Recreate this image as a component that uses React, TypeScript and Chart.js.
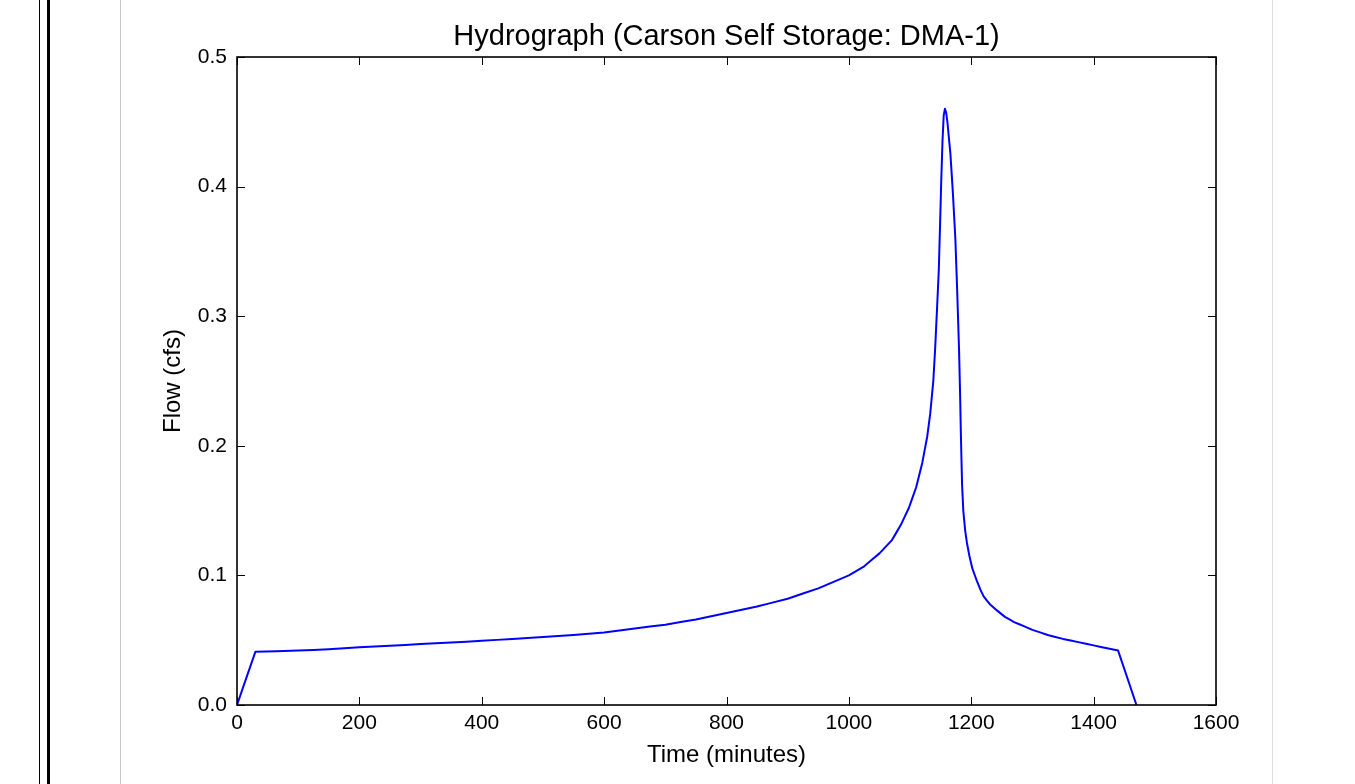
import React, { useEffect, useRef } from "react";
import { Chart, registerables } from "chart.js";

Chart.register(...registerables);

const chartTitle = "Hydrograph (Carson Self Storage: DMA-1)";
const xAxisLabel = "Time (minutes)";
const yAxisLabel = "Flow (cfs)";

// time in minutes
const timeMinutes = [
  0, 30, 100, 150, 200, 250, 300, 350, 400, 450, 500, 550, 600, 650, 700, 750,
  800, 850, 900, 950, 1000, 1025, 1050, 1070, 1085, 1098, 1110, 1120, 1128,
  1133, 1138, 1141, 1144, 1147, 1149, 1151, 1153, 1155, 1157, 1159, 1161,
  1163, 1166, 1170, 1174, 1177, 1180, 1182, 1183, 1184, 1185, 1187, 1190,
  1193, 1197, 1202, 1209, 1215, 1220, 1230, 1242, 1255, 1270, 1285, 1300,
  1325, 1350, 1375, 1400, 1420, 1440, 1470,
];
// flow in cfs
const flowCfs = [
  0, 0.041, 0.042, 0.043, 0.0445, 0.0457, 0.047, 0.0482, 0.0495, 0.051,
  0.0525, 0.054, 0.056, 0.059, 0.062, 0.066, 0.071, 0.076, 0.082, 0.09, 0.1,
  0.107, 0.117, 0.127, 0.139, 0.152, 0.168, 0.187, 0.207, 0.225, 0.25, 0.275,
  0.305, 0.336, 0.37, 0.405, 0.435, 0.455, 0.46, 0.457, 0.45, 0.44, 0.425,
  0.395, 0.36, 0.32, 0.275, 0.235, 0.21, 0.19, 0.17, 0.15, 0.135, 0.125,
  0.115, 0.105, 0.096, 0.089, 0.084, 0.078, 0.073, 0.068, 0.064, 0.061, 0.058,
  0.054, 0.051, 0.0485, 0.046, 0.044, 0.042, 0,
];

const xTicks = [0, 200, 400, 600, 800, 1000, 1200, 1400, 1600];
const yTicks = [0.0, 0.1, 0.2, 0.3, 0.4, 0.5];

const FONT = "'Liberation Sans', Arial, sans-serif";

const framePlugin = {
  id: "framePlugin",
  afterDatasetsDraw(chart: any) {
    const { ctx, chartArea } = chart;
    const { left, right, top, bottom } = chartArea;
    const xs = chart.scales.x;
    const ys = chart.scales.y;
    ctx.save();
    ctx.strokeStyle = "#000";
    ctx.lineWidth = 1.6;
    ctx.strokeRect(left, top, right - left, bottom - top);
    ctx.lineWidth = 1;
    const tl = 8;
    ctx.beginPath();
    xTicks.forEach((v) => {
      const px = Math.round(xs.getPixelForValue(v)) + 0.5;
      ctx.moveTo(px, bottom);
      ctx.lineTo(px, bottom - tl);
      ctx.moveTo(px, top);
      ctx.lineTo(px, top + tl);
    });
    yTicks.forEach((v) => {
      const py = Math.round(ys.getPixelForValue(v)) + 0.5;
      ctx.moveTo(left, py);
      ctx.lineTo(left + tl, py);
      ctx.moveTo(right, py);
      ctx.lineTo(right - tl, py);
    });
    ctx.stroke();

    ctx.fillStyle = "#000";
    ctx.textAlign = "center";
    ctx.textBaseline = "middle";
    ctx.font = `29px ${FONT}`;
    ctx.fillText(chartTitle, (left + right) / 2, 37);
    ctx.font = `24px ${FONT}`;
    ctx.fillText(xAxisLabel, (left + right) / 2, 755);
    ctx.save();
    ctx.translate(173, (top + bottom) / 2);
    ctx.rotate(-Math.PI / 2);
    ctx.fillText(yAxisLabel, 0, 0);
    ctx.restore();
    ctx.restore();
  },
};

export default function App() {
  const ref = useRef<HTMLCanvasElement | null>(null);
  useEffect(() => {
    if (!ref.current) return;
    const data = timeMinutes.map((t, i) => ({ x: t, y: flowCfs[i] }));
    const chart = new Chart(ref.current, {
      type: "line",
      data: {
        datasets: [
          {
            data,
            borderColor: "#0000ff",
            borderWidth: 2,
            pointRadius: 0,
            tension: 0.0001,
            fill: false,
            borderJoinStyle: "round",
          },
        ],
      },
      options: {
        responsive: false,
        animation: false,
        devicePixelRatio: 1,
        layout: { padding: { top: 57, right: 139, left: 0, bottom: 0 } },
        plugins: {
          legend: { display: false },
          title: { display: false },
          tooltip: { enabled: false },
        },
        scales: {
          x: {
            type: "linear",
            min: 0,
            max: 1600,
            afterFit(scale: any) {
              scale.height = 79;
            },
            afterBuildTicks(scale: any) {
              scale.ticks = xTicks.map((v) => ({ value: v }));
            },
            grid: { display: false, drawTicks: false },
            border: { display: false },
            ticks: {
              color: "#000",
              font: { family: FONT, size: 21 },
              padding: 6,
              maxRotation: 0,
              callback: (v: any) => String(v),
            },
          },
          y: {
            type: "linear",
            min: 0,
            max: 0.5,
            afterFit(scale: any) {
              scale.width = 237;
            },
            afterBuildTicks(scale: any) {
              scale.ticks = yTicks.map((v) => ({ value: v }));
            },
            grid: { display: false, drawTicks: false },
            border: { display: false },
            ticks: {
              color: "#000",
              font: { family: FONT, size: 21 },
              padding: 10,
              callback: (v: any) => Number(v).toFixed(1),
            },
          },
        },
      },
      plugins: [framePlugin],
    });
    return () => chart.destroy();
  }, []);

  return (
    <div style={{ position: "absolute", left: 0, top: 0, width: 1355, height: 784, background: "#fff", overflow: "hidden" }}>
      <div style={{ position: "absolute", left: 39, top: 0, width: 1, height: 784, background: "#000" }} />
      <div style={{ position: "absolute", left: 47, top: 0, width: 3, height: 784, background: "#000" }} />
      <div style={{ position: "absolute", left: 120, top: 0, width: 1, height: 784, background: "#c8c8c8" }} />
      <div style={{ position: "absolute", left: 1272, top: 0, width: 1, height: 784, background: "#dcdcdc" }} />
      <canvas ref={ref} width={1355} height={784} style={{ position: "absolute", left: 0, top: 0, width: 1355, height: 784 }} />
    </div>
  );
}
